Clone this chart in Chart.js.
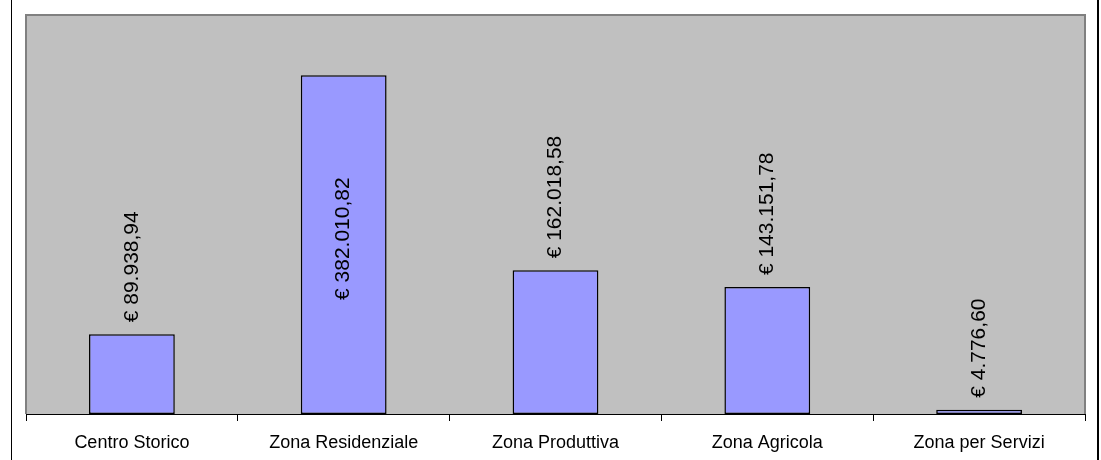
<!DOCTYPE html>
<html lang="it">
<head>
    <meta charset="UTF-8">
    <title>Zone</title>
    <script src="https://cdn.jsdelivr.net/npm/chart.js"></script>
    <style>
        body {
            margin: 0;
            background: #fff;
            font-family: 'Liberation Sans', Arial, sans-serif;
        }
        .box {
            position: relative;
            width: 1101px;
            height: 460px;
        }
        .box::before {
            content: '';
            position: absolute;
            left: 11px; top: 0; bottom: 0;
            border-left: 1px solid #000;
        }
        .box::after {
            content: '';
            position: absolute;
            left: 1097px; top: 0; bottom: 0;
            border-left: 2px solid #000;
        }
    </style>
</head>
<body>
<div class="box">
    <canvas id="zoneChart" width="1101" height="460"></canvas>
</div>

<script>
    const zone = ['Centro Storico', 'Zona Residenziale', 'Zona Produttiva', 'Zona Agricola', 'Zona per Servizi'];
    const importi = [89938.94, 382010.82, 162018.58, 143151.78, 4776.60];
    const maxAsse = 450000;

    function euro(v) {
        const parts = v.toFixed(2).split('.');
        const intero = parts[0].replace(/\B(?=(\d{3})+(?!\d))/g, '.');
        return '€ ' + intero + ',' + parts[1];
    }

    // sfondo grigio e bordo dell'area del grafico
    const sfondo = {
        id: 'sfondo',
        beforeDraw(chart) {
            const { ctx, chartArea: a } = chart;
            ctx.save();
            ctx.fillStyle = '#C0C0C0';
            ctx.fillRect(a.left, a.top, a.right - a.left, a.bottom - a.top);
            ctx.strokeStyle = '#808080';
            ctx.lineWidth = 2;
            ctx.beginPath();
            ctx.moveTo(a.left, a.bottom);
            ctx.lineTo(a.left, a.top);
            ctx.lineTo(a.right, a.top);
            ctx.lineTo(a.right, a.bottom);
            ctx.stroke();
            ctx.restore();
        }
    };

    // etichette verticali con gli importi
    const etichette = {
        id: 'etichette',
        afterDatasetsDraw(chart) {
            const { ctx, chartArea: a } = chart;
            const meta = chart.getDatasetMeta(0);
            ctx.save();
            ctx.font = "21px 'Liberation Sans', Arial, sans-serif";
            ctx.fillStyle = '#000';
            ctx.textBaseline = 'middle';
            meta.data.forEach((bar, i) => {
                const testo = euro(importi[i]);
                const w = ctx.measureText(testo).width;
                ctx.save();
                if (bar.y - 12 - w < a.top) {
                    ctx.translate(bar.x, (bar.y + bar.base) / 2 - 6);
                    ctx.rotate(-Math.PI / 2);
                    ctx.textAlign = 'center';
                } else {
                    ctx.translate(bar.x, bar.y - 12);
                    ctx.rotate(-Math.PI / 2);
                    ctx.textAlign = 'left';
                }
                ctx.fillText(testo, 0, 0);
                ctx.restore();
            });
            ctx.restore();
        }
    };

    new Chart(document.getElementById('zoneChart'), {
        type: 'bar',
        data: {
            labels: zone,
            datasets: [{
                data: importi,
                backgroundColor: '#9999FF',
                borderColor: '#000',
                borderWidth: 1.5,
                borderSkipped: false,
                categoryPercentage: 1,
                barPercentage: 0.405
            }]
        },
        options: {
            responsive: false,
            animation: false,
            layout: { padding: { left: 26, right: 16, top: 15, bottom: 0 } },
            plugins: {
                legend: { display: false },
                tooltip: { enabled: false }
            },
            scales: {
                x: {
                    offset: true,
                    grid: {
                        offset: true,
                        drawOnChartArea: false,
                        color: '#000',
                        tickLength: 7
                    },
                    border: { color: '#000', width: 1 },
                    ticks: {
                        color: '#000',
                        padding: 11,
                        maxRotation: 0,
                        font: { family: "'Liberation Sans', Arial, sans-serif", size: 18 }
                    },
                    afterFit(scale) { scale.height = 46; }
                },
                y: {
                    display: false,
                    min: 0,
                    max: maxAsse
                }
            }
        },
        plugins: [sfondo, etichette]
    });
</script>
</body>
</html>
